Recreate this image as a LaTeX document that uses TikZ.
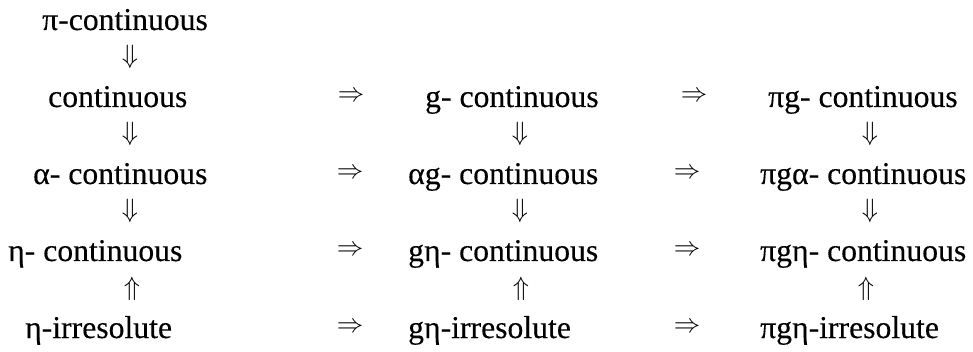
\documentclass[tikz,border=0pt]{standalone}
\usepackage{fontspec}
\setmainfont{Liberation Serif}
\newfontfamily\tnrfont[FakeBold=0.25]{Liberation Serif}
\begin{document}
\begin{tikzpicture}[x=1pt,y=-1pt,
  lbl/.style={anchor=base west,inner sep=0pt,font=\tnrfont\fontsize{31.7}{38}\selectfont},
  harr/.style={anchor=center,inner sep=0pt,scale=2.65},
  varr/.style={anchor=center,inner sep=0pt,scale=2.65}]
\useasboundingbox (0,0) rectangle (973,352);
% column 1
\node[lbl] (p)  at (42,30)  {π-continuous};
\node[lbl] (c1) at (48,107) {continuous};
\node[lbl] (a1) at (33,184) {α- continuous};
\node[lbl] (e1) at (8,261)  {η- continuous};
\node[lbl] (i1) at (25,338) {η-irresolute};
% column 2
\node[lbl] (c2) at (425,107) {g- continuous};
\node[lbl] (a2) at (408,184) {αg- continuous};
\node[lbl] (e2) at (408,261) {gη- continuous};
\node[lbl] (i2) at (408,338) {gη-irresolute};
% column 3
\node[lbl] (c3) at (768,107) {πg- continuous};
\node[lbl] (a3) at (760,184) {πgα- continuous};
\node[lbl] (e3) at (760,261) {πgη- continuous};
\node[lbl] (i3) at (760,338) {πgη-irresolute};
% horizontal implications
\node[harr] (h11) at (351,97) {$\Rightarrow$};
\node[harr] (h12) at (694,97) {$\Rightarrow$};
\node[harr] (h21) at (350,174) {$\Rightarrow$};
\node[harr] (h22) at (687,174) {$\Rightarrow$};
\node[harr] (h31) at (350,251) {$\Rightarrow$};
\node[harr] (h32) at (687,251) {$\Rightarrow$};
\node[harr] (h41) at (350,328) {$\Rightarrow$};
\node[harr] (h42) at (687,328) {$\Rightarrow$};
% vertical implications
\node[varr] (v01) at (130,57)  {$\Downarrow$};
\node[varr] (v11) at (130,134) {$\Downarrow$};
\node[varr] (v21) at (130,211) {$\Downarrow$};
\node[varr] (v31) at (132,289) {$\Uparrow$};
\node[varr] (v12) at (520,134) {$\Downarrow$};
\node[varr] (v22) at (520,211) {$\Downarrow$};
\node[varr] (v32) at (521,289) {$\Uparrow$};
\node[varr] (v13) at (870,134) {$\Downarrow$};
\node[varr] (v23) at (870,211) {$\Downarrow$};
\node[varr] (v33) at (866,289) {$\Uparrow$};
\end{tikzpicture}
\end{document}
